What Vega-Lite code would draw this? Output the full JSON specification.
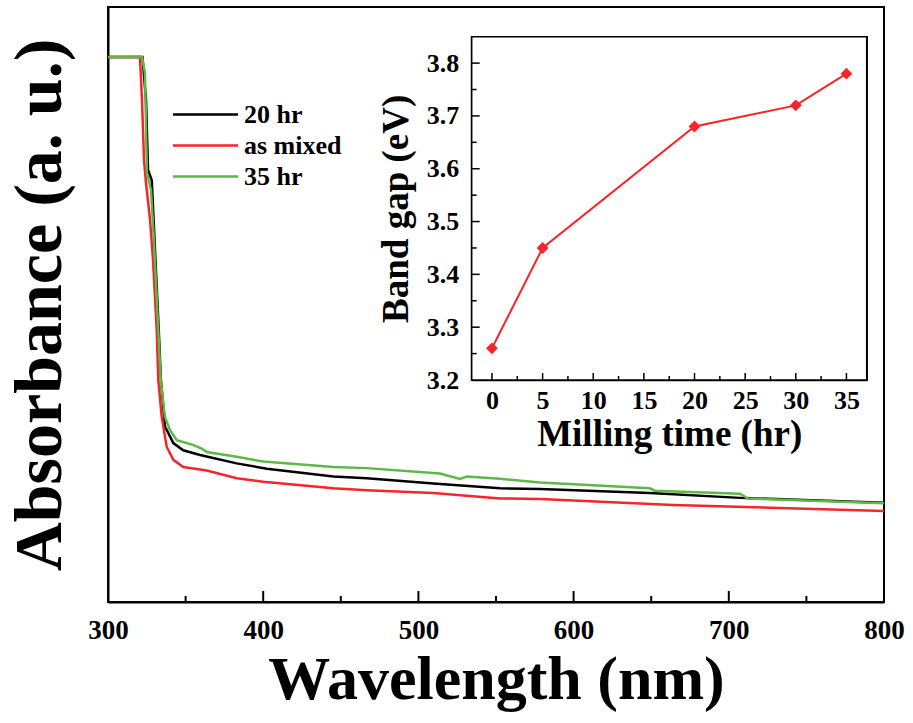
{
  "$schema": "https://vega.github.io/schema/vega-lite/v6.json",
  "width": 776,
  "height": 595,
  "autosize": {"type": "none"},
  "padding": {"left": 108, "top": 7, "right": 29, "bottom": 121},
  "background": "white",
  "config": {
    "view": {"stroke": "black", "strokeWidth": 2},
    "font": "Liberation Serif",
    "axis": {
      "labelFont": "Liberation Serif",
      "titleFont": "Liberation Serif",
      "labelFontWeight": "bold",
      "titleFontWeight": "bold",
      "labelColor": "black",
      "titleColor": "black",
      "domainColor": "black",
      "grid": false,
      "labelFlush": false
    },
    "legend": {
      "labelFont": "Liberation Serif",
      "labelFontWeight": "bold",
      "labelColor": "black"
    }
  },
  "datasets": {
    "main": [
      {"series": "20 hr", "nm": 300, "A": 91.6},
      {"series": "20 hr", "nm": 322.2, "A": 91.6},
      {"series": "20 hr", "nm": 324.5, "A": 84.4},
      {"series": "20 hr", "nm": 325.8, "A": 72.6},
      {"series": "20 hr", "nm": 328.2, "A": 70.9},
      {"series": "20 hr", "nm": 330.0, "A": 60.8},
      {"series": "20 hr", "nm": 332.7, "A": 45.7},
      {"series": "20 hr", "nm": 334.1, "A": 37.3},
      {"series": "20 hr", "nm": 336.7, "A": 29.5},
      {"series": "20 hr", "nm": 342.1, "A": 26.7},
      {"series": "20 hr", "nm": 348.5, "A": 25.5},
      {"series": "20 hr", "nm": 359.3, "A": 24.7},
      {"series": "20 hr", "nm": 382.9, "A": 23.3},
      {"series": "20 hr", "nm": 402.3, "A": 22.4},
      {"series": "20 hr", "nm": 445.2, "A": 21.1},
      {"series": "20 hr", "nm": 466.7, "A": 20.8},
      {"series": "20 hr", "nm": 509.6, "A": 19.9},
      {"series": "20 hr", "nm": 552.6, "A": 19.1},
      {"series": "20 hr", "nm": 578.4, "A": 19.0},
      {"series": "20 hr", "nm": 649.2, "A": 18.3},
      {"series": "20 hr", "nm": 707.2, "A": 17.5},
      {"series": "20 hr", "nm": 800, "A": 16.7},
      {"series": "as mixed", "nm": 300, "A": 91.6},
      {"series": "as mixed", "nm": 320.6, "A": 91.6},
      {"series": "as mixed", "nm": 321.9, "A": 84.4},
      {"series": "as mixed", "nm": 323.2, "A": 74.3},
      {"series": "as mixed", "nm": 324.5, "A": 70.4},
      {"series": "as mixed", "nm": 327.1, "A": 64.2},
      {"series": "as mixed", "nm": 329.0, "A": 57.5},
      {"series": "as mixed", "nm": 331.4, "A": 45.7},
      {"series": "as mixed", "nm": 332.4, "A": 37.3},
      {"series": "as mixed", "nm": 334.6, "A": 31.1},
      {"series": "as mixed", "nm": 337.8, "A": 26.1},
      {"series": "as mixed", "nm": 342.1, "A": 23.9},
      {"series": "as mixed", "nm": 348.5, "A": 22.7},
      {"series": "as mixed", "nm": 363.6, "A": 22.1},
      {"series": "as mixed", "nm": 382.9, "A": 20.8},
      {"series": "as mixed", "nm": 400.1, "A": 20.2},
      {"series": "as mixed", "nm": 445.2, "A": 19.1},
      {"series": "as mixed", "nm": 466.7, "A": 18.8},
      {"series": "as mixed", "nm": 509.6, "A": 18.3},
      {"series": "as mixed", "nm": 552.6, "A": 17.4},
      {"series": "as mixed", "nm": 578.4, "A": 17.3},
      {"series": "as mixed", "nm": 664.1, "A": 16.3},
      {"series": "as mixed", "nm": 800, "A": 15.3},
      {"series": "35 hr", "nm": 300, "A": 91.6},
      {"series": "35 hr", "nm": 321.9, "A": 91.6},
      {"series": "35 hr", "nm": 323.8, "A": 88.9},
      {"series": "35 hr", "nm": 325.1, "A": 72.1},
      {"series": "35 hr", "nm": 327.7, "A": 69.2},
      {"series": "35 hr", "nm": 329.6, "A": 60.8},
      {"series": "35 hr", "nm": 332.4, "A": 45.7},
      {"series": "35 hr", "nm": 334.0, "A": 37.3},
      {"series": "35 hr", "nm": 336.7, "A": 31.1},
      {"series": "35 hr", "nm": 339.9, "A": 28.9},
      {"series": "35 hr", "nm": 344.3, "A": 27.2},
      {"series": "35 hr", "nm": 354.8, "A": 26.4},
      {"series": "35 hr", "nm": 360.4, "A": 25.8},
      {"series": "35 hr", "nm": 363.6, "A": 25.2},
      {"series": "35 hr", "nm": 382.9, "A": 24.4},
      {"series": "35 hr", "nm": 400.1, "A": 23.6},
      {"series": "35 hr", "nm": 445.2, "A": 22.7},
      {"series": "35 hr", "nm": 466.7, "A": 22.5},
      {"series": "35 hr", "nm": 513.9, "A": 21.6},
      {"series": "35 hr", "nm": 526.8, "A": 20.7},
      {"series": "35 hr", "nm": 531.1, "A": 21.1},
      {"series": "35 hr", "nm": 552.6, "A": 20.7},
      {"series": "35 hr", "nm": 578.4, "A": 20.1},
      {"series": "35 hr", "nm": 649.2, "A": 19.1},
      {"series": "35 hr", "nm": 652.4, "A": 18.7},
      {"series": "35 hr", "nm": 707.2, "A": 18.2},
      {"series": "35 hr", "nm": 712.4, "A": 17.4},
      {"series": "35 hr", "nm": 800, "A": 16.6}
    ],
    "inset": [
      {"t": 0, "Eg": 3.26},
      {"t": 5, "Eg": 3.45},
      {"t": 20, "Eg": 3.68},
      {"t": 30, "Eg": 3.72},
      {"t": 35, "Eg": 3.78}
    ],
    "nmMajor": [{"nm": 400}, {"nm": 500}, {"nm": 600}, {"nm": 700}],
    "nmMinor": [{"nm": 350}, {"nm": 450}, {"nm": 550}, {"nm": 650}, {"nm": 750}],
    "tMajor": [{"t": 0}, {"t": 5}, {"t": 10}, {"t": 15}, {"t": 20}, {"t": 25}, {"t": 30}, {"t": 35}],
    "tMinor": [{"t": 2.5}, {"t": 7.5}, {"t": 12.5}, {"t": 17.5}, {"t": 22.5}, {"t": 27.5}, {"t": 32.5}],
    "egMajor": [{"Eg": 3.3}, {"Eg": 3.4}, {"Eg": 3.5}, {"Eg": 3.6}, {"Eg": 3.7}, {"Eg": 3.8}],
    "egMinor": [{"Eg": 3.25}, {"Eg": 3.35}, {"Eg": 3.45}, {"Eg": 3.55}, {"Eg": 3.65}, {"Eg": 3.75}]
  },
  "layer": [
    {
      "data": {"name": "main"},
      "mark": {"type": "line", "strokeWidth": 2.5, "interpolate": "linear"},
      "encoding": {
        "x": {
          "field": "nm",
          "type": "quantitative",
          "scale": {"domain": [300, 800], "nice": false, "zero": false},
          "axis": {
            "orient": "bottom",
            "values": [300, 400, 500, 600, 700, 800],
            "ticks": false,
            "domainWidth": 2,
            "labelFontSize": 27,
            "labelPadding": 15,
            "title": "Wavelength (nm)",
            "titleFontSize": 62,
            "titlePadding": 6
          }
        },
        "y": {
          "field": "A",
          "type": "quantitative",
          "scale": {"domain": [0, 100], "nice": false},
          "axis": {
            "orient": "left",
            "ticks": false,
            "labels": false,
            "domainWidth": 2,
            "title": "Absorbance (a. u.)",
            "titleFontSize": 68,
            "titlePadding": 34
          }
        },
        "color": {
          "field": "series",
          "type": "nominal",
          "sort": ["20 hr", "as mixed", "35 hr"],
          "scale": {"domain": ["20 hr", "as mixed", "35 hr"], "range": ["#000000", "#f5252a", "#5cb946"]},
          "legend": {
            "title": null,
            "orient": "none",
            "legendX": 80,
            "legendY": 90,
            "symbolType": "M-2,0H2",
            "symbolSize": 1056,
            "symbolStrokeWidth": 2.5,
            "labelFontSize": 26,
            "rowPadding": 0,
            "labelOffset": 21
          }
        }
      }
    },
    {
      "layer": [
        {
          "data": {"name": "nmMajor"},
          "mark": {"type": "tick", "orient": "vertical", "color": "black", "size": 11, "thickness": 2, "opacity": 1},
          "encoding": {
            "x": {"field": "nm", "type": "quantitative", "scale": {"domain": [300, 800], "nice": false, "zero": false}, "axis": null},
            "y": {"datum": 0.92, "type": "quantitative", "scale": {"domain": [0, 100], "nice": false}, "axis": null}
          }
        },
        {
          "data": {"name": "nmMinor"},
          "mark": {"type": "tick", "orient": "vertical", "color": "black", "size": 6, "thickness": 2, "opacity": 1},
          "encoding": {
            "x": {"field": "nm", "type": "quantitative", "axis": null},
            "y": {"datum": 0.5, "type": "quantitative", "axis": null}
          }
        }
      ]
    },
    {
      "layer": [
        {
          "data": {"name": "inset"},
          "mark": {"type": "rect", "fill": "white", "stroke": "black", "strokeWidth": 1.5},
          "encoding": {
            "x": {"datum": -2, "type": "quantitative"},
            "x2": {"datum": 37},
            "y": {"datum": 3.2, "type": "quantitative"},
            "y2": {"datum": 3.85}
          }
        },
        {
          "data": {"name": "inset"},
          "mark": {"type": "line", "color": "#f5252a", "strokeWidth": 2},
          "encoding": {
            "x": {"field": "t", "type": "quantitative"},
            "y": {"field": "Eg", "type": "quantitative"}
          }
        },
        {
          "data": {"name": "inset"},
          "mark": {"type": "point", "shape": "diamond", "filled": true, "color": "#f5252a", "size": 140, "opacity": 1},
          "encoding": {
            "x": {
              "field": "t",
              "type": "quantitative",
              "scale": {"domain": [-2, 37], "nice": false, "zero": false, "range": [363.7, 758.7]},
              "axis": {
                "orient": "bottom",
                "offset": -222,
                "values": [0, 5, 10, 15, 20, 25, 30, 35],
                "ticks": false,
                "domainWidth": 1.5,
                "labelFontSize": 26,
                "labelPadding": 7,
                "title": "Milling time (hr)",
                "titleFontSize": 37,
                "titlePadding": 3
              }
            },
            "y": {
              "field": "Eg",
              "type": "quantitative",
              "scale": {"domain": [3.2, 3.85], "nice": false, "zero": false, "range": [373, 29.7]},
              "axis": {
                "orient": "left",
                "offset": -363.7,
                "values": [3.2, 3.3, 3.4, 3.5, 3.6, 3.7, 3.8],
                "format": ".1f",
                "ticks": false,
                "domainWidth": 1.5,
                "labelFontSize": 26,
                "labelPadding": 13,
                "title": "Band gap (eV)",
                "titleFontSize": 37,
                "titlePadding": 11
              }
            }
          }
        }
      ]
    },
    {
      "layer": [
        {
          "data": {"name": "tMajor"},
          "mark": {"type": "tick", "orient": "vertical", "color": "black", "size": 7, "thickness": 1.5, "opacity": 1},
          "encoding": {
            "x": {"field": "t", "type": "quantitative", "scale": {"domain": [-2, 37], "nice": false, "zero": false, "range": [363.7, 758.7]}, "axis": null},
            "y": {"datum": 3.2066, "type": "quantitative", "scale": {"domain": [3.2, 3.85], "nice": false, "zero": false, "range": [373, 29.7]}, "axis": null}
          }
        },
        {
          "data": {"name": "tMinor"},
          "mark": {"type": "tick", "orient": "vertical", "color": "black", "size": 4, "thickness": 1.5, "opacity": 1},
          "encoding": {
            "x": {"field": "t", "type": "quantitative", "axis": null},
            "y": {"datum": 3.2038, "type": "quantitative", "axis": null}
          }
        },
        {
          "data": {"name": "egMajor"},
          "mark": {"type": "tick", "orient": "horizontal", "color": "black", "size": 8, "thickness": 1.5, "opacity": 1},
          "encoding": {
            "y": {"field": "Eg", "type": "quantitative", "axis": null},
            "x": {"datum": -1.605, "type": "quantitative", "axis": null}
          }
        },
        {
          "data": {"name": "egMinor"},
          "mark": {"type": "tick", "orient": "horizontal", "color": "black", "size": 5, "thickness": 1.5, "opacity": 1},
          "encoding": {
            "y": {"field": "Eg", "type": "quantitative", "axis": null},
            "x": {"datum": -1.753, "type": "quantitative", "axis": null}
          }
        }
      ]
    }
  ],
  "resolve": {"scale": {"x": "independent", "y": "independent", "color": "independent"}}
}
